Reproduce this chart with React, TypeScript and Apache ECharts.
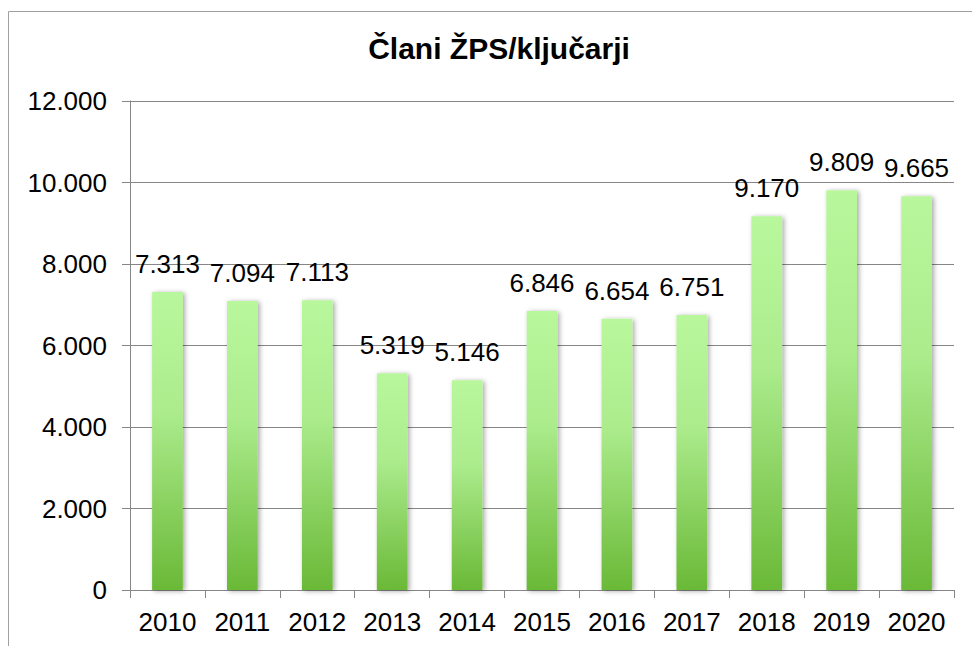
import React, { useEffect, useRef } from "react";
import * as echarts from "echarts";

const years = ["2010", "2011", "2012", "2013", "2014", "2015", "2016", "2017", "2018", "2019", "2020"];
const members = [7313, 7094, 7113, 5319, 5146, 6846, 6654, 6751, 9170, 9809, 9665];
const titleText = "Člani ŽPS/ključarji";

const fmt = (v: number) => {
  const s = String(Math.round(v));
  return s.replace(/\B(?=(\d{3})+(?!\d))/g, ".");
};

const FONT = "'Liberation Sans', Arial, sans-serif";
const FS = 26;

export default function App() {
  const ref = useRef<HTMLDivElement>(null);
  useEffect(() => {
    document.body.style.margin = "0";
    const chart = echarts.init(ref.current!, undefined, { renderer: "svg" });
    chart.setOption({
      animation: false,
      backgroundColor: "#ffffff",
      title: {
        text: titleText,
        left: 494,
        top: 28,
        textAlign: "center",
        textStyle: { fontFamily: FONT, fontSize: 30, fontWeight: "bold", color: "#000" },
      },
      graphic: [
        {
          type: "rect",
          shape: { x: 8.5, y: 11.5, width: 1000, height: 700 },
          style: { fill: "none", stroke: "#a0a0a0", lineWidth: 1 },
          silent: true,
          z: 100,
        },
      ],
      grid: { left: 130, top: 101, right: 18, bottom: 56, containLabel: false },
      xAxis: {
        type: "category",
        data: years,
        axisLine: { lineStyle: { color: "#868686", width: 1 } },
        axisTick: { show: true, length: 8, interval: 0, lineStyle: { color: "#868686" } },
        axisLabel: { fontFamily: FONT, fontSize: FS, color: "#000", margin: 19, interval: 0, hideOverlap: false },
      },
      yAxis: {
        type: "value",
        min: 0,
        max: 12000,
        interval: 2000,
        axisLine: { show: true, lineStyle: { color: "#868686", width: 1 } },
        axisTick: { show: true, length: 8, lineStyle: { color: "#868686" } },
        splitLine: { lineStyle: { color: "#868686", width: 1 } },
        axisLabel: {
          fontFamily: FONT,
          fontSize: FS,
          color: "#000",
          margin: 23,
          formatter: (v: number) => fmt(v),
        },
      },
      series: [
        {
          type: "bar",
          data: members,
          barWidth: "41%",
          itemStyle: {
            color: new echarts.graphic.LinearGradient(0, 0, 0, 1, [
              { offset: 0, color: "#b9f79c" },
              { offset: 0.4, color: "#acec8d" },
              { offset: 1, color: "#6ab937" },
            ]),
            shadowColor: "rgba(0,0,0,0.35)",
            shadowBlur: 5,
            shadowOffsetX: 2,
            shadowOffsetY: 1,
          },
          label: {
            show: true,
            position: "top",
            distance: 15,
            fontFamily: FONT,
            fontSize: FS,
            color: "#000",
            formatter: (p: any) => fmt(p.value),
          },
        },
      ],
    });
    return () => chart.dispose();
  }, []);
  return <div ref={ref} style={{ width: 972, height: 646 }} />;
}
